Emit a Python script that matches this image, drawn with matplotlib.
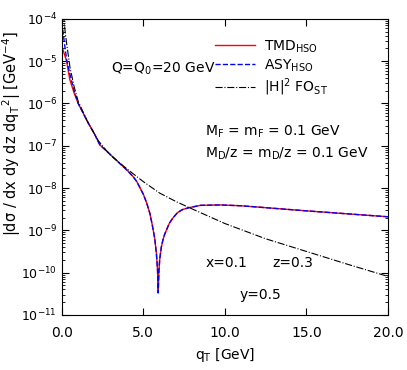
import numpy as np
import matplotlib
matplotlib.use("Agg")
import matplotlib.pyplot as plt
from matplotlib.ticker import FormatStrFormatter, LogLocator

# values, as log10 of the cross section
q_tmd = [0.0, 0.15, 0.29, 0.49, 0.75, 1.0, 1.2, 1.6, 2.0, 2.33, 2.84, 3.5, 4.0, 4.37,
         4.6, 5.0, 5.2, 5.4, 5.55, 5.7, 5.8, 5.87, 5.91, 5.95, 6.0, 6.1, 6.2, 6.3,
         6.42, 6.6, 6.83, 7.1, 7.4, 7.75, 8.5, 9.7, 11.0, 13.0, 15.0, 17.5, 20.0]
log_tmd = [-4.65, -4.83, -5.0, -5.44, -5.75, -6.0, -6.15, -6.45, -6.72, -6.98, -7.16,
           -7.4, -7.58, -7.73, -7.85, -8.15, -8.35, -8.6, -8.88, -9.2, -9.55, -9.95,
           -10.48, -10.0, -9.7, -9.4, -9.23, -9.1, -8.99, -8.83, -8.70, -8.58, -8.51,
           -8.47, -8.41, -8.40, -8.42, -8.48, -8.54, -8.61, -8.68]

q_asy = [0.0, 0.1, 0.2, 0.3, 0.49, 0.75] + q_tmd[5:]
log_asy = [-4.08, -4.4, -4.7, -4.98, -5.3, -5.7] + log_tmd[5:]

q_fo = [0.1, 0.2, 0.3, 0.5, 0.75, 1.0, 1.6, 2.23, 2.94, 4.0, 5.0, 6.0, 7.0, 7.85,
        10.0, 12.5, 15.0, 17.5, 20.0]
log_fo = [-3.9, -4.3, -4.6, -5.15, -5.6, -5.95, -6.45, -6.88, -7.21, -7.55, -7.85,
          -8.12, -8.32, -8.47, -8.84, -9.2, -9.5, -9.8, -10.09]

fig = plt.figure(figsize=(4.07, 3.7), dpi=100)
ax = fig.add_axes([0.152, 0.149, 0.801, 0.8])

ax.plot(q_tmd, 10 ** np.array(log_tmd), "r-", lw=1, label=r"TMD$_{\mathrm{HSO}}$")
ax.plot(q_asy, 10 ** np.array(log_asy), "b--", lw=1, label=r"ASY$_{\mathrm{HSO}}$")
ax.plot(q_fo, 10 ** np.array(log_fo), "k-.", lw=0.8, label=r"$|$H$|^2$ FO$_{\mathrm{ST}}$")

ax.set_yscale("log")
ax.set_xlim(0, 20)
ax.set_ylim(1e-11, 1e-4)
ax.set_xticks([0, 5, 10, 15, 20])
ax.xaxis.set_major_formatter(FormatStrFormatter("%.1f"))
ax.yaxis.set_major_locator(LogLocator(base=10, numticks=10))
ax.yaxis.set_minor_locator(LogLocator(base=10, subs=np.arange(2, 10), numticks=20))
ax.tick_params(which="both", direction="in", top=True, right=True)
ax.tick_params(axis="x", labelsize=10, pad=8)
ax.tick_params(axis="y", labelsize=9)
ax.tick_params(which="major", length=5)
ax.tick_params(which="minor", length=2.5)

ax.set_xlabel(r"q$_{\mathrm{T}}$ [GeV]", fontsize=10)
ax.set_ylabel(r"$|$dσ / dx dy dz dq$_{\mathrm{T}}$$^2$$|$ [GeV$^{-4}$]", fontsize=10.5)
ax.yaxis.set_label_coords(-0.12, 0.611)

ax.legend(loc="upper left", bbox_to_anchor=(0.47, 0.935), frameon=False, fontsize=10,
          handlelength=2.9, handletextpad=0.6, labelspacing=0.2,
          borderaxespad=0, borderpad=0)

ax.text(0.15, 0.83, r"Q=Q$_0$=20 GeV", transform=ax.transAxes, fontsize=10, va="center")
ax.text(0.44, 0.62, r"M$_{\mathrm{F}}$ = m$_{\mathrm{F}}$ = 0.1 GeV", transform=ax.transAxes,
        fontsize=10, va="center")
ax.text(0.44, 0.545, r"M$_{\mathrm{D}}$/z = m$_{\mathrm{D}}$/z = 0.1 GeV", transform=ax.transAxes,
        fontsize=10, va="center")
ax.text(0.44, 0.175, "x=0.1", transform=ax.transAxes, fontsize=10, va="center")
ax.text(0.645, 0.175, "z=0.3", transform=ax.transAxes, fontsize=10, va="center")
ax.text(0.545, 0.068, "y=0.5", transform=ax.transAxes, fontsize=10, va="center")

fig.savefig("out.png", dpi=100)
